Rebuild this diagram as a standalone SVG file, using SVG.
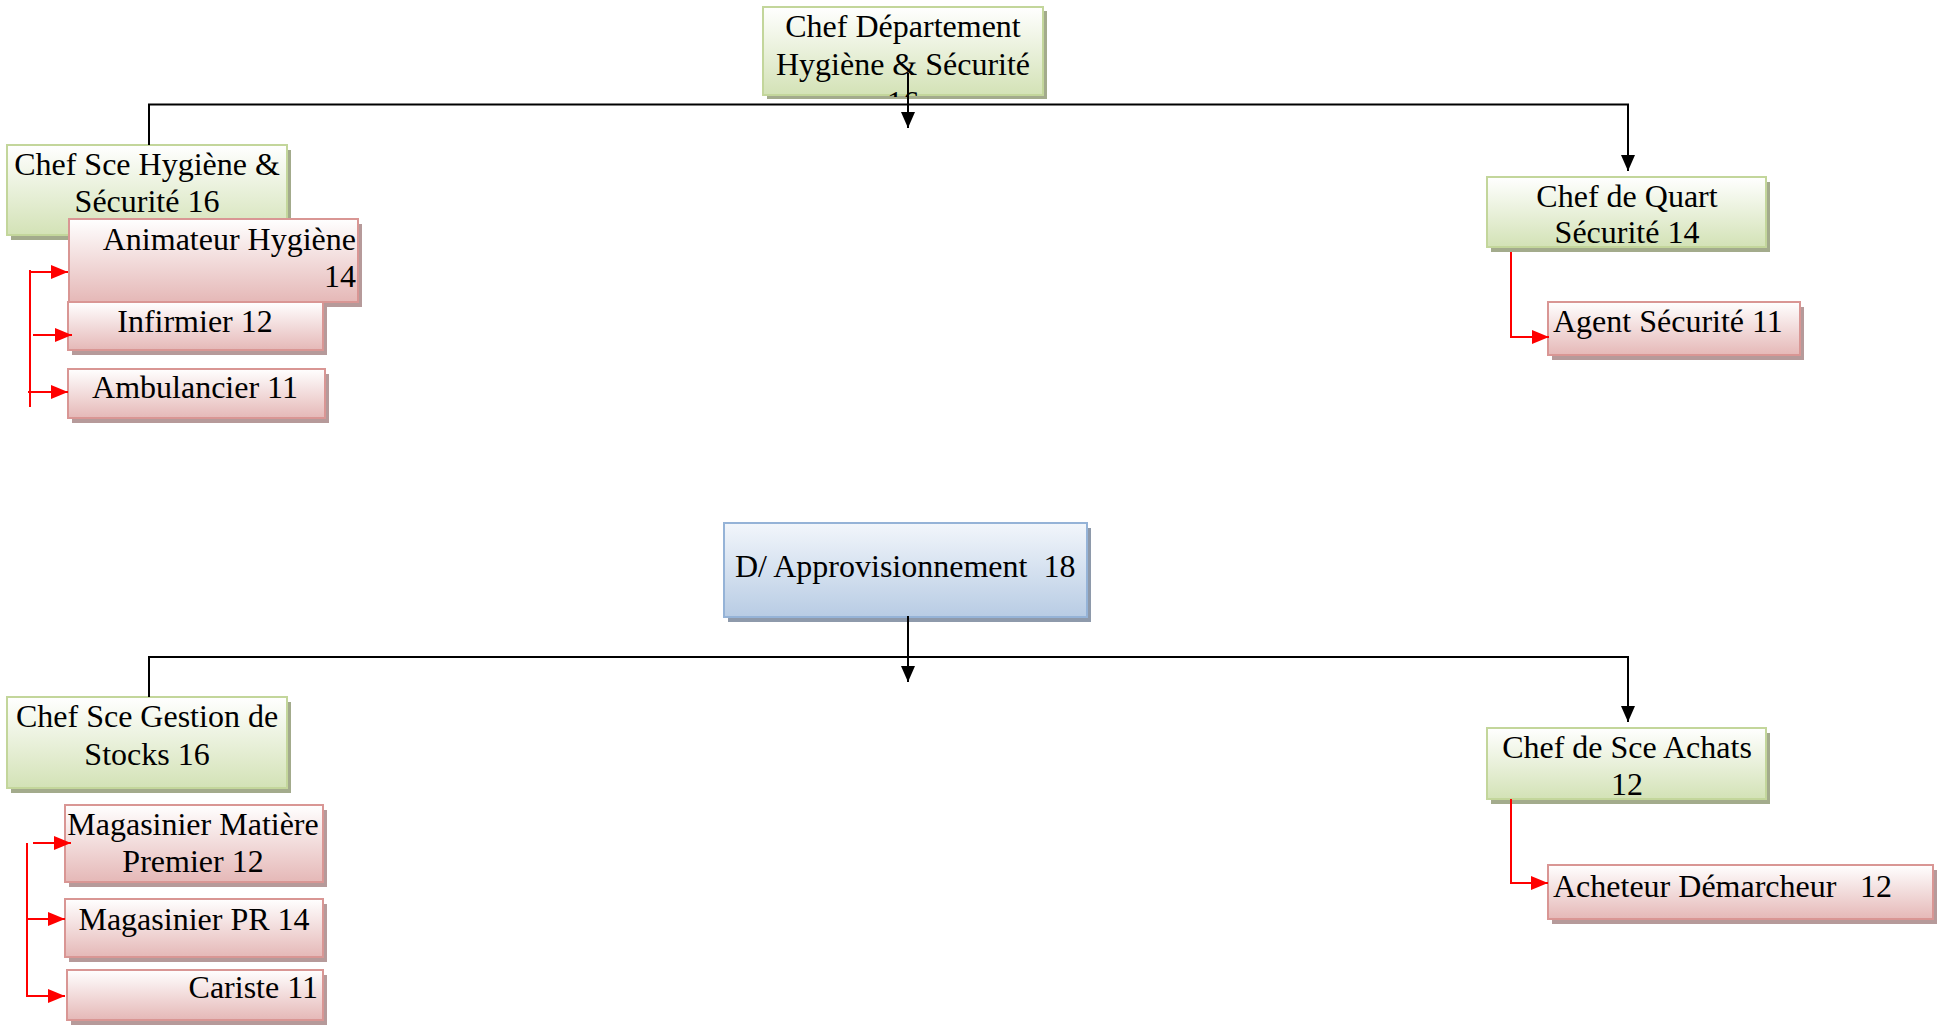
<svg xmlns="http://www.w3.org/2000/svg" width="1943" height="1025" viewBox="0 0 1943 1025">
<defs>
<linearGradient id="gGreen" x1="0" y1="0" x2="0" y2="1"><stop offset="0" stop-color="#ffffff"/><stop offset="1" stop-color="#d3e2b6"/></linearGradient>
<linearGradient id="gRed" x1="0" y1="0" x2="0" y2="1"><stop offset="0" stop-color="#ffffff"/><stop offset="1" stop-color="#e5b8b7"/></linearGradient>
<linearGradient id="gBlue" x1="0" y1="0" x2="0" y2="1"><stop offset="0" stop-color="#f2f6fb"/><stop offset="1" stop-color="#b8cce4"/></linearGradient>
<marker id="aBlack" markerUnits="userSpaceOnUse" markerWidth="17" markerHeight="15" refX="16" refY="7" orient="auto"><path d="M0,0 L16,7 L0,14 z" fill="#000"/></marker>
<marker id="aRed" markerUnits="userSpaceOnUse" markerWidth="18" markerHeight="15" refX="17" refY="7" orient="auto"><path d="M0,0 L17,7 L0,14 z" fill="#ff0000"/></marker>
<clipPath id="clipTop"><rect x="763" y="7" width="284" height="90"/></clipPath>
</defs>
<style>
text{font-family:"Liberation Serif","Times New Roman",serif;font-size:32px;fill:#000}
.c{text-anchor:middle}
.e{text-anchor:end}
.shG{fill:#a3ab8c}
.shR{fill:#b69a9a}
.shB{fill:#8e9aab}
.bG{fill:url(#gGreen);stroke:#c3d69b;stroke-width:2}
.bR{fill:url(#gRed);stroke:#d99694;stroke-width:2}
.bB{fill:url(#gBlue);stroke:#95b3d7;stroke-width:2}
.lk{fill:none;stroke:#000;stroke-width:2}
.lr{fill:none;stroke:#ff0000;stroke-width:2}
</style>

<g id="n-chef-dept">
<rect class="shG" x="767" y="11" width="280" height="88"/>
<rect class="bG" x="763" y="7" width="280" height="88"/>
<g clip-path="url(#clipTop)">
<text class="c" x="903" y="37">Chef Département</text>
<text class="c" x="903" y="75">Hygiène &amp; Sécurité</text>
<text class="c" x="903" y="113">16</text>
</g>
</g>

<g id="n-chef-sce-hyg">
<rect class="shG" x="11" y="150" width="280" height="90"/>
<rect class="bG" x="7" y="145" width="280" height="90"/>
<text class="c" x="147" y="175">Chef Sce Hygiène &amp;</text>
<text class="c" x="147" y="212">Sécurité 16</text>
</g>

<g id="n-animateur">
<rect class="shR" x="73" y="224" width="289" height="83"/>
<rect class="bR" x="69" y="219" width="289" height="83"/>
<text class="e" x="356" y="250">Animateur Hygiène</text>
<text class="e" x="356" y="287">14</text>
</g>

<g id="n-infirmier">
<rect class="shR" x="72" y="307" width="255" height="48"/>
<rect class="bR" x="68" y="302" width="255" height="48"/>
<text class="c" x="195" y="332">Infirmier 12</text>
</g>

<g id="n-ambulancier">
<rect class="shR" x="72" y="374" width="257" height="49"/>
<rect class="bR" x="68" y="369" width="257" height="49"/>
<text class="c" x="195" y="398">Ambulancier 11</text>
</g>

<g id="n-chef-quart">
<rect class="shG" x="1491" y="182" width="279" height="70"/>
<rect class="bG" x="1487" y="177" width="279" height="70"/>
<text class="c" x="1627" y="207">Chef de Quart</text>
<text class="c" x="1627" y="243">Sécurité 14</text>
</g>

<g id="n-agent">
<rect class="shR" x="1552" y="307" width="252" height="53"/>
<rect class="bR" x="1548" y="302" width="252" height="53"/>
<text x="1553" y="332">Agent Sécurité 11</text>
</g>

<g id="n-d-approv">
<rect class="shB" x="728" y="528" width="363" height="94"/>
<rect class="bB" x="724" y="523" width="363" height="94"/>
<text x="735" y="577" xml:space="preserve">D/ Approvisionnement  18</text>
</g>

<g id="n-chef-stocks">
<rect class="shG" x="11" y="702" width="280" height="91"/>
<rect class="bG" x="7" y="697" width="280" height="91"/>
<text class="c" x="147" y="727">Chef Sce Gestion de</text>
<text class="c" x="147" y="765">Stocks 16</text>
</g>

<g id="n-mag-matiere">
<rect class="shR" x="69" y="810" width="258" height="77"/>
<rect class="bR" x="65" y="805" width="258" height="77"/>
<text class="c" x="193" y="835">Magasinier Matière</text>
<text class="c" x="193" y="872">Premier 12</text>
</g>

<g id="n-mag-pr">
<rect class="shR" x="69" y="904" width="258" height="58"/>
<rect class="bR" x="65" y="899" width="258" height="58"/>
<text class="c" x="194" y="930">Magasinier PR 14</text>
</g>

<g id="n-cariste">
<rect class="shR" x="71" y="975" width="256" height="50"/>
<rect class="bR" x="67" y="970" width="256" height="50"/>
<text class="e" x="318" y="998">Cariste 11</text>
</g>

<g id="n-chef-achats">
<rect class="shG" x="1491" y="733" width="279" height="71"/>
<rect class="bG" x="1487" y="728" width="279" height="71"/>
<text class="c" x="1627" y="758">Chef de Sce Achats</text>
<text class="c" x="1627" y="795">12</text>
</g>

<g id="n-acheteur">
<rect class="shR" x="1552" y="870" width="385" height="54"/>
<rect class="bR" x="1548" y="865" width="385" height="54"/>
<text x="1553" y="897">Acheteur Démarcheur<tspan x="1860">12</tspan></text>
</g>

<g id="connectors">
<path class="lk" d="M149,145 V104.5 H1628 V171" marker-end="url(#aBlack)"/>
<path class="lk" d="M908,73 V128" marker-end="url(#aBlack)"/>
<path class="lr" d="M30,270 V407"/>
<path class="lr" d="M29,272 H68" marker-end="url(#aRed)"/>
<path class="lr" d="M33,335 H72" marker-end="url(#aRed)"/>
<path class="lr" d="M28,392 H68" marker-end="url(#aRed)"/>
<path class="lr" d="M1511,252 V337 H1549" marker-end="url(#aRed)"/>
<path class="lk" d="M149,697 V657 H1628 V722" marker-end="url(#aBlack)"/>
<path class="lk" d="M908,616 V682" marker-end="url(#aBlack)"/>
<path class="lr" d="M27,843 V997"/>
<path class="lr" d="M33,843 H71" marker-end="url(#aRed)"/>
<path class="lr" d="M27,919 H65" marker-end="url(#aRed)"/>
<path class="lr" d="M27,996 H65" marker-end="url(#aRed)"/>
<path class="lr" d="M1511,799 V883 H1548" marker-end="url(#aRed)"/>
</g>
</svg>
